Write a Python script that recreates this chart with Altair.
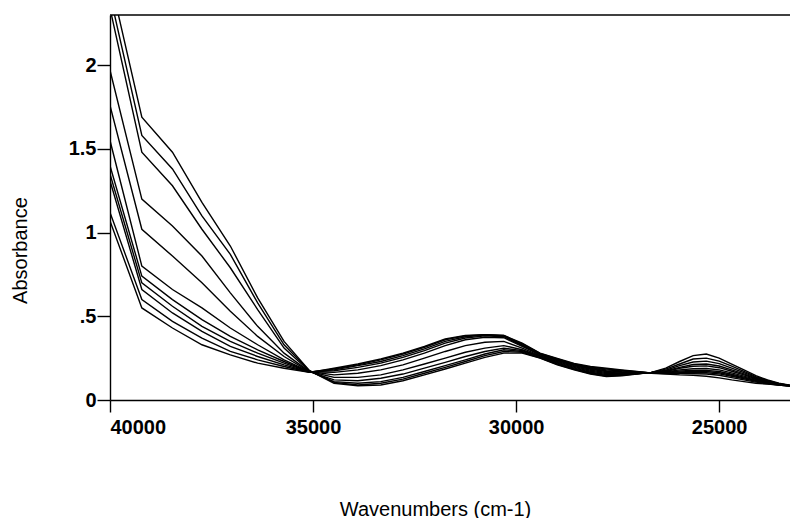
import altair as alt
import pandas as pd

# Wavenumbers (cm-1) of the sampled points
wavenumbers = [40000, 39216, 38462, 37736, 37037, 36364, 35714, 35088, 34483, 33898,
               33333, 32787, 32258, 31746, 31250, 30769, 30303, 29851, 29412, 28986,
               28571, 28169, 27778, 27397, 27027, 26667, 26316, 25974, 25641, 25316,
               25000, 24691, 24390, 24096, 23810, 23529, 23256]

s0 = [2.52, 1.69, 1.48, 1.18, 0.92, 0.61, 0.35, 0.175, 0.10, 0.085, 0.09, 0.115, 0.15, 0.185, 0.22, 0.255,
      0.28, 0.28, 0.25, 0.21, 0.18, 0.155, 0.14, 0.145, 0.155, 0.165, 0.19, 0.23, 0.265, 0.275, 0.25, 0.215,
      0.18, 0.145, 0.12, 0.10, 0.088]
s1 = [2.42, 1.58, 1.38, 1.10, 0.87, 0.58, 0.33, 0.175, 0.105, 0.09, 0.10, 0.125, 0.16, 0.195, 0.23, 0.265,
      0.29, 0.285, 0.252, 0.213, 0.183, 0.158, 0.143, 0.147, 0.156, 0.165, 0.184, 0.215, 0.245, 0.25, 0.232, 0.202,
      0.171, 0.14, 0.117, 0.098, 0.087]
s2 = [2.34, 1.48, 1.28, 1.02, 0.79, 0.54, 0.31, 0.172, 0.11, 0.10, 0.11, 0.135, 0.17, 0.205, 0.24, 0.275,
      0.30, 0.29, 0.255, 0.216, 0.186, 0.162, 0.147, 0.15, 0.157, 0.164, 0.178, 0.205, 0.227, 0.232, 0.217, 0.19,
      0.163, 0.135, 0.114, 0.097, 0.087]
s3 = [1.97, 1.20, 1.04, 0.86, 0.64, 0.44, 0.28, 0.17, 0.12, 0.115, 0.13, 0.155, 0.19, 0.225, 0.26, 0.29,
      0.31, 0.295, 0.26, 0.22, 0.19, 0.166, 0.152, 0.153, 0.158, 0.164, 0.174, 0.195, 0.212, 0.215, 0.203, 0.18,
      0.156, 0.131, 0.111, 0.095, 0.086]
s4 = [1.76, 1.02, 0.86, 0.70, 0.53, 0.38, 0.26, 0.17, 0.135, 0.135, 0.15, 0.18, 0.215, 0.25, 0.285, 0.31,
      0.325, 0.30, 0.262, 0.225, 0.195, 0.172, 0.158, 0.157, 0.16, 0.163, 0.17, 0.19, 0.202, 0.204, 0.193, 0.172,
      0.15, 0.127, 0.108, 0.094, 0.086]
s5 = [1.55, 0.80, 0.66, 0.55, 0.43, 0.33, 0.24, 0.17, 0.15, 0.16, 0.18, 0.21, 0.25, 0.29, 0.325, 0.345,
      0.35, 0.31, 0.265, 0.23, 0.20, 0.178, 0.164, 0.161, 0.162, 0.163, 0.167, 0.18, 0.187, 0.188, 0.18, 0.162,
      0.143, 0.123, 0.106, 0.093, 0.085]
s6 = [1.40, 0.74, 0.60, 0.48, 0.38, 0.30, 0.23, 0.168, 0.165, 0.18, 0.205, 0.24, 0.28, 0.325, 0.36, 0.375,
      0.372, 0.32, 0.27, 0.235, 0.205, 0.184, 0.17, 0.165, 0.164, 0.162, 0.164, 0.173, 0.177, 0.177, 0.17, 0.154,
      0.137, 0.119, 0.104, 0.092, 0.085]
s7 = [1.35, 0.70, 0.56, 0.44, 0.35, 0.28, 0.22, 0.168, 0.175, 0.195, 0.22, 0.255, 0.295, 0.34, 0.37, 0.383,
      0.378, 0.325, 0.272, 0.238, 0.208, 0.188, 0.175, 0.169, 0.166, 0.162, 0.162, 0.168, 0.171, 0.17, 0.163, 0.148,
      0.132, 0.116, 0.102, 0.091, 0.085]
s8 = [1.31, 0.66, 0.52, 0.41, 0.32, 0.26, 0.21, 0.167, 0.18, 0.205, 0.23, 0.265, 0.305, 0.35, 0.378, 0.388,
      0.382, 0.33, 0.275, 0.241, 0.211, 0.192, 0.18, 0.173, 0.168, 0.161, 0.16, 0.163, 0.164, 0.163, 0.156, 0.142,
      0.127, 0.112, 0.10, 0.09, 0.084]
s9 = [1.12, 0.60, 0.47, 0.37, 0.29, 0.24, 0.20, 0.166, 0.185, 0.21, 0.24, 0.275, 0.315, 0.36, 0.383, 0.39,
      0.385, 0.335, 0.278, 0.245, 0.215, 0.196, 0.185, 0.177, 0.169, 0.161, 0.158, 0.158, 0.157, 0.155, 0.148, 0.134,
      0.12, 0.107, 0.097, 0.09, 0.084]
s10 = [1.07, 0.55, 0.43, 0.33, 0.27, 0.22, 0.19, 0.165, 0.19, 0.215, 0.245, 0.28, 0.32, 0.365, 0.386, 0.39,
       0.385, 0.34, 0.28, 0.248, 0.218, 0.20, 0.19, 0.18, 0.17, 0.16, 0.155, 0.15, 0.147, 0.142, 0.132, 0.12,
       0.11, 0.10, 0.095, 0.09, 0.084]

series = [s0, s1, s2, s3, s4, s5, s6, s7, s8, s9, s10]

x_ticks = [40000, 35000, 30000, 25000]
y_ticks = [0, 0.5, 1, 1.5, 2]

rows = []
for i, s in enumerate(series):
    for w, a in zip(wavenumbers, s):
        rows.append({"wn": w, "abs": a, "series": f"s{i}"})
df = pd.DataFrame(rows)

FONT = "Liberation Sans"

lines = alt.Chart(df).mark_line(color="black", strokeWidth=1.4, clip=True).encode(
    x=alt.X("wn:Q",
            scale=alt.Scale(domain=[23256, 40000], reverse=True, nice=False, zero=False),
            axis=alt.Axis(values=x_ticks, format="d", title="Wavenumbers (cm-1)",
                          titleX=325, titleY=109, titleBaseline="middle", titleAlign="center",
                          tickSize=12, labelPadding=5)),
    y=alt.Y("abs:Q",
            scale=alt.Scale(domain=[0, 2.3], nice=False),
            axis=alt.Axis(values=y_ticks, title="Absorbance",
                          labelExpr="datum.value == 0.5 ? '.5' : toString(datum.value)",
                          titleX=-90, titleY=235, titleAngle=270, titleBaseline="middle",
                          titleAlign="center", tickSize=13, labelPadding=1)),
    detail="series:N",
)

top = alt.Chart(pd.DataFrame({"a": [0]})).mark_rule(color="black", strokeWidth=1.4).encode(
    x=alt.value(0), x2=alt.value(680), y=alt.value(0)
)

chart = alt.layer(lines, top).properties(
    width=680, height=385,
    padding={"left": 110, "top": 15, "right": 0, "bottom": 118},
    autosize="none",
    background="white",
).configure_view(stroke=None).configure_axis(
    grid=False, domainColor="black", tickColor="black", labelColor="black", titleColor="black",
    labelFont=FONT, titleFont=FONT, labelFontSize=20, titleFontSize=20,
    labelFontWeight="bold", titleFontWeight="normal", domainWidth=1.4, tickWidth=1.4,
)

chart.save("out.html", embed_options={"renderer": "svg", "actions": False})
